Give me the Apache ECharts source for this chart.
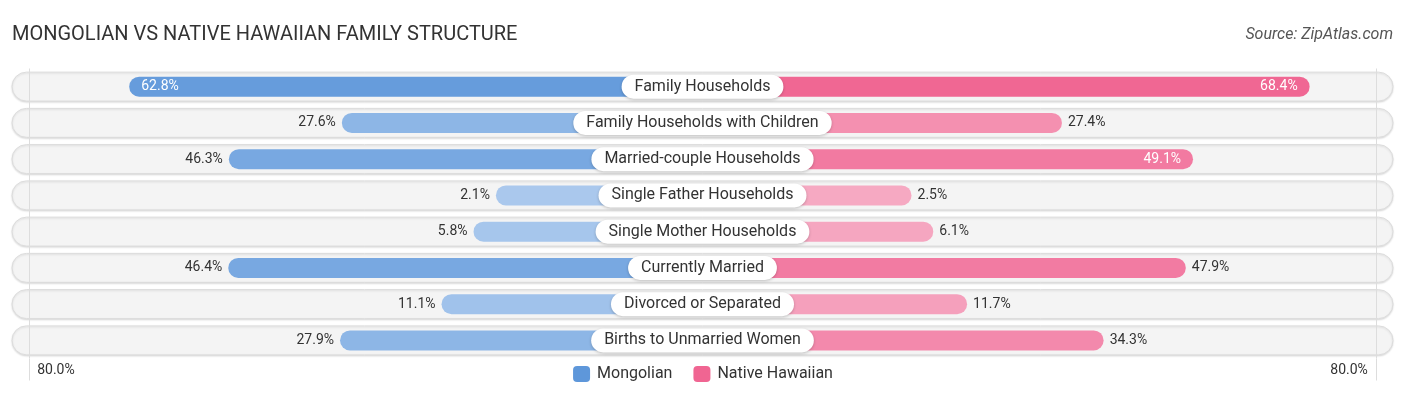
<!DOCTYPE html>
<html>
<head>
<meta charset="utf-8">
<script src="https://cdn.jsdelivr.net/npm/echarts@6/dist/echarts.min.js"></script>
<style>
html,body{margin:0;padding:0;background:#fff;}
#chart{width:1406px;height:395px;}
</style>
</head>
<body>
<div id="chart"></div>
<script>
// ---- data ----
const categories = [
  'Family Households',
  'Family Households with Children',
  'Married-couple Households',
  'Single Father Households',
  'Single Mother Households',
  'Currently Married',
  'Divorced or Separated',
  'Births to Unmarried Women'
];
const mongolian = [62.8, 27.6, 46.3, 2.1, 5.8, 46.4, 11.1, 27.9];
const nativeHawaiian = [68.4, 27.4, 49.1, 2.5, 6.1, 47.9, 11.7, 34.3];
const seriesNames = ['Mongolian', 'Native Hawaiian'];
const edgeTickLabels = ['80.0%', '80.0%'];

// ---- layout constants (axis units) ----
const OFF = 32.1;      // gap reserved under the centre label
const EDGE = 111.5;    // position of the 80% reference line
const AXMAX = 114.3;   // axis extent

function mix(a, b, t) {
  t = Math.max(0, Math.min(1, t));
  const r = Math.round(a[0] + (b[0] - a[0]) * t);
  const g = Math.round(a[1] + (b[1] - a[1]) * t);
  const bl = Math.round(a[2] + (b[2] - a[2]) * t);
  return 'rgb(' + r + ',' + g + ',' + bl + ')';
}
const blueLight = [172, 202, 238], blueDark = [94, 151, 218];
const pinkLight = [246, 172, 196], pinkDark = [240, 101, 146];
const INSIDE_MIN = 48;

function barData(vals, sign, light, dark) {
  return vals.map(v => {
    const inside = v > INSIDE_MIN;
    return {
      value: sign * (OFF + v),
      itemStyle: { color: mix(light, dark, v / 70) },
      label: {
        position: inside ? (sign < 0 ? 'insideLeft' : 'insideRight') : (sign < 0 ? 'left' : 'right'),
        distance: inside ? 12 : 6,
        color: inside ? '#ffffff' : '#333333'
      }
    };
  });
}

const chart = echarts.init(document.getElementById('chart'), null, { renderer: 'canvas' });
const FONT = 'Roboto, "Noto Sans", sans-serif';

const option = {
  animation: false,
  textStyle: { fontFamily: FONT },
  title: [
    {
      text: 'MONGOLIAN VS NATIVE HAWAIIAN FAMILY STRUCTURE',
      left: 7, top: 20,
      textStyle: { fontFamily: FONT, fontWeight: 'normal', fontSize: 20, color: '#333' }
    },
    {
      text: 'Source: ZipAtlas.com',
      right: 8, top: 22,
      textStyle: { fontFamily: FONT, fontWeight: 'normal', fontStyle: 'italic', fontSize: 16, color: '#555' }
    }
  ],
  legend: {
    data: seriesNames,
    left: 'center',
    top: 361,
    icon: 'roundRect',
    itemWidth: 17,
    itemHeight: 16,
    itemGap: 21,
    textStyle: { fontFamily: FONT, fontSize: 16, color: '#333', padding: [0, 0, 0, 2] },
    selectedMode: false
  },
  grid: { left: 12, right: 13, top: 68.5, bottom: 36.5 },
  xAxis: {
    type: 'value',
    min: -AXMAX,
    max: AXMAX,
    axisLine: { show: false },
    splitLine: { show: false },
    axisTick: {
      show: true,
      customValues: [-EDGE, EDGE],
      length: 22,
      lineStyle: { color: '#dddddd', width: 1 }
    },
    axisLabel: {
      show: true,
      customValues: [-EDGE, EDGE],
      margin: 5,
      formatter: function (v) {
        return v < 0 ? '{a|' + edgeTickLabels[0] + '}' : '{b|' + edgeTickLabels[1] + '}';
      },
      rich: {
        a: { fontFamily: FONT, fontSize: 14, color: '#333', padding: [0, 0, 0, 54] },
        b: { fontFamily: FONT, fontSize: 14, color: '#333', padding: [0, 54, 0, 0] }
      }
    }
  },
  yAxis: {
    type: 'category',
    data: categories,
    inverse: true,
    axisLine: { show: false },
    axisTick: { show: false },
    axisLabel: { show: false },
    splitLine: { show: false }
  },
  series: [
    {
      type: 'custom',
      name: 'bg',
      z: 0,
      silent: true,
      data: categories.map((c, i) => [0, i]),
      encode: { x: 0, y: 1 },
      renderItem: function (params, api) {
        const cs = params.coordSys;
        const yc = api.coord([0, api.value(1)])[1];
        const h = api.size([0, 1])[1] * 0.8;
        return {
          type: 'rect',
          shape: { x: cs.x, y: yc - h / 2, width: cs.width, height: h, r: h / 2 },
          style: {
            fill: '#f4f4f4',
            stroke: '#dcdcdc',
            lineWidth: 1,
            shadowBlur: 2,
            shadowOffsetY: 1,
            shadowColor: 'rgba(0,0,0,0.12)'
          }
        };
      },
      markLine: {
        silent: true,
        symbol: 'none',
        label: { show: false },
        lineStyle: { color: '#dddddd', width: 1, type: 'solid' },
        data: [{ xAxis: -EDGE }, { xAxis: EDGE }]
      }
    },
    {
      type: 'bar',
      name: seriesNames[0],
      z: 2,
      barWidth: 20,
      barGap: '-100%',
      color: 'rgb(94,151,218)',
      itemStyle: { borderRadius: 10 },
      label: {
        show: true,
        fontFamily: FONT,
        fontSize: 14,
        formatter: p => mongolian[p.dataIndex].toFixed(1) + '%'
      },
      data: barData(mongolian, -1, blueLight, blueDark)
    },
    {
      type: 'bar',
      name: seriesNames[1],
      z: 2,
      barWidth: 20,
      barGap: '-100%',
      color: 'rgb(240,101,146)',
      itemStyle: { borderRadius: 10 },
      label: {
        show: true,
        fontFamily: FONT,
        fontSize: 14,
        formatter: p => nativeHawaiian[p.dataIndex].toFixed(1) + '%'
      },
      data: barData(nativeHawaiian, 1, pinkLight, pinkDark)
    },
    {
      type: 'scatter',
      name: 'labels',
      z: 10,
      zlevel: 1,
      silent: true,
      symbolSize: 0,
      itemStyle: { color: '#ffffff', opacity: 1 },
      data: categories.map((c, i) => [0, i]),
      label: {
        show: true,
        position: 'inside',
        opacity: 1,
        formatter: p => categories[p.dataIndex],
        fontFamily: FONT,
        fontSize: 16,
        color: '#333',
        backgroundColor: '#ffffff',
        borderRadius: 12,
        padding: [3, 13],
        lineHeight: 18,
        shadowColor: 'rgba(0,0,0,0.22)',
        shadowBlur: 3,
        shadowOffsetY: 1
      }
    }
  ]
};
chart.setOption(option);
</script>
</body>
</html>
